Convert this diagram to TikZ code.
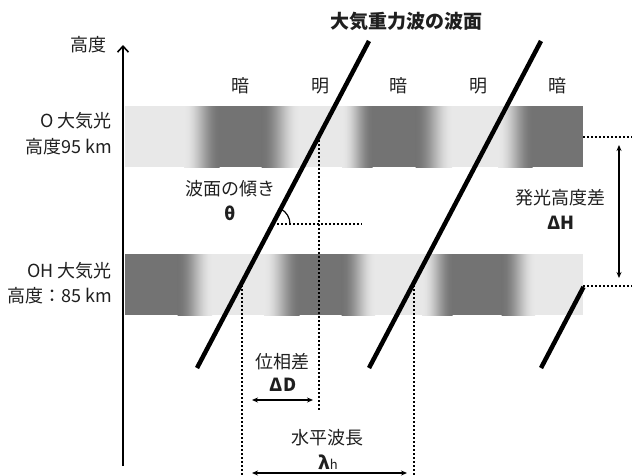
\documentclass[tikz,border=0pt]{standalone}
\usepackage{fontspec}
\setmainfont{Noto Sans CJK JP}
\usetikzlibrary{arrows.meta,calc}
\definecolor{bandlight}{gray}{0.91}
\definecolor{banddark}{gray}{0.45}
\definecolor{inkc}{gray}{0.12}
\colorlet{rA}{banddark!4!bandlight}
\colorlet{rB}{banddark!15!bandlight}
\colorlet{rC}{banddark!31!bandlight}
\colorlet{rD}{banddark!50!bandlight}
\colorlet{rE}{banddark!69!bandlight}
\colorlet{rF}{banddark!85!bandlight}
\colorlet{rG}{banddark!96!bandlight}
\pgfdeclarehorizontalshading{rampup}{100bp}{color(0bp)=(bandlight); color(25bp)=(bandlight); color(31.25bp)=(rA); color(37.5bp)=(rB); color(43.75bp)=(rC); color(50bp)=(rD); color(56.25bp)=(rE); color(62.5bp)=(rF); color(68.75bp)=(rG); color(75bp)=(banddark); color(100bp)=(banddark)}
\pgfdeclarehorizontalshading{rampdown}{100bp}{color(0bp)=(banddark); color(25bp)=(banddark); color(31.25bp)=(rG); color(37.5bp)=(rF); color(43.75bp)=(rE); color(50bp)=(rD); color(56.25bp)=(rC); color(62.5bp)=(rB); color(68.75bp)=(rA); color(75bp)=(bandlight); color(100bp)=(bandlight)}
\begin{document}
\begin{tikzpicture}[x=1pt,y=-1pt,
  lbl/.style={font=\fontsize{18}{20}\selectfont, inner sep=0pt, text=inkc},
  blbl/.style={font=\fontsize{18}{20}\selectfont\bfseries, inner sep=0pt, text=inkc},
  wave/.style={line width=4.5pt},
  guide/.style={line width=1.3pt, dash pattern=on 2pt off 2pt},
  dimarrow/.style={line width=1.3pt, {Stealth[length=6pt,width=5pt]}-{Stealth[length=6pt,width=5pt]}},
]
\useasboundingbox (0,0) rectangle (632,475);

% ---- O airglow band (top) ----
\fill[bandlight] (125,106) rectangle (583,167);
\foreach \a/\b/\c/\d in {184/219/262/299, 342/372/416/452}{
  \shade[shading=rampup] (\a,106) rectangle (\b+0.5,167);
  \fill[banddark] (\b,106) rectangle (\c,167);
  \shade[shading=rampdown] (\c-0.5,106) rectangle (\d,167);
}
\shade[shading=rampup] (498,106) rectangle (532.5,167);
\fill[banddark] (532,106) rectangle (583,167);

% ---- OH airglow band (bottom) ----
\fill[bandlight] (125,254) rectangle (583,315);
\fill[banddark] (125,254) rectangle (178,315);
\shade[shading=rampdown] (177.5,254) rectangle (212,315);
\foreach \a/\b/\c/\d in {264/299/342/375, 422/452/502/535}{
  \shade[shading=rampup] (\a,254) rectangle (\b+0.5,315);
  \fill[banddark] (\b,254) rectangle (\c,315);
  \shade[shading=rampdown] (\c-0.5,254) rectangle (\d,315);
}

% ---- coordinates ----
\coordinate (ax0) at (123,466);
\coordinate (ax1) at (123,45);
\coordinate (w1t) at (369,41);
\coordinate (w1b) at (197,368);
\coordinate (w2t) at (541,41);
\coordinate (w2b) at (369,368);
\coordinate (w3t) at (583.5,287);
\coordinate (w3b) at (541,368);
\coordinate (v1t) at (319,136);
\coordinate (v1b) at (319,410);
\coordinate (v2t) at (242,285);
\coordinate (v2b) at (242,476);
\coordinate (v3t) at (414,285);
\coordinate (v3b) at (414,476);
\coordinate (th0) at (273,224);
\coordinate (th1) at (362,224);
\coordinate (rt0) at (583,137);
\coordinate (rt1) at (633,137);
\coordinate (rb0) at (583,286);
\coordinate (rb1) at (633,286);
\coordinate (dh0) at (619,145);
\coordinate (dh1) at (619,278);
\coordinate (dd0) at (252,400);
\coordinate (dd1) at (313,400);
\coordinate (dl0) at (252,473);
\coordinate (dl1) at (407,473);

% ---- guides ----
\draw[guide] (v1t) -- (v1b);
\draw[guide] (v2t) -- (v2b);
\draw[guide] (v3t) -- (v3b);
\draw[guide] (th0) -- (th1);
\draw[guide] (rt0) -- (rt1);
\draw[guide] (rb0) -- (rb1);

% ---- wave fronts ----
\draw[wave] (w1t) -- (w1b);
\draw[wave] (w2t) -- (w2b);
\draw[wave] (w3t) -- (w3b);

% ---- altitude axis ----
\draw[line width=1.8pt, -{Straight Barb[length=6pt,width=11pt,line width=1.6pt]}] (ax0) -- (ax1);

% ---- theta arc ----
\draw[line width=1.2pt] ($(th0)+(17,0)$) arc[start angle=0, end angle=-62, radius=17];

% ---- dimension arrows ----
\draw[dimarrow] (dh0) -- (dh1);
\draw[dimarrow] (dd0) -- (dd1);
\draw[dimarrow] (dl0) -- (dl1);

% ---- labels ----
\node[blbl, font=\fontsize{19}{21}\selectfont\bfseries] (title) at (406,21) {大気重力波の波面};
\node[lbl] (alt) at (88,45) {高度};
\node[lbl] (d1) at (240,86) {暗};
\node[lbl] (b1) at (320,86) {明};
\node[lbl] (d2) at (398,86) {暗};
\node[lbl] (b2) at (478,86) {明};
\node[lbl] (d3) at (557,86) {暗};
\node[lbl, anchor=east] (oa) at (112,121) {O 大気光};
\node[lbl, anchor=east] (ob) at (112,147) {高度95 km};
\node[lbl, anchor=east] (oha) at (112,271) {OH 大気光};
\node[lbl, anchor=east] (ohb) at (112,296) {高度：85 km};
\node[lbl] (tilt) at (230,189) {波面の傾き};
\node[blbl] (theta) at (230,213) {θ};
\node[lbl] (dhl) at (560,198) {発光高度差};
\node[blbl] (dhs) at (561,223) {ΔH};
\node[lbl] (ddl) at (282,362) {位相差};
\node[blbl] (dds) at (283,385) {ΔD};
\node[lbl] (wl) at (327,438) {水平波長};
\node[lbl] (wls) at (328,462) {\bfseries λ{\fontsize{13}{13}\selectfont\mdseries h}};
\end{tikzpicture}
\end{document}
